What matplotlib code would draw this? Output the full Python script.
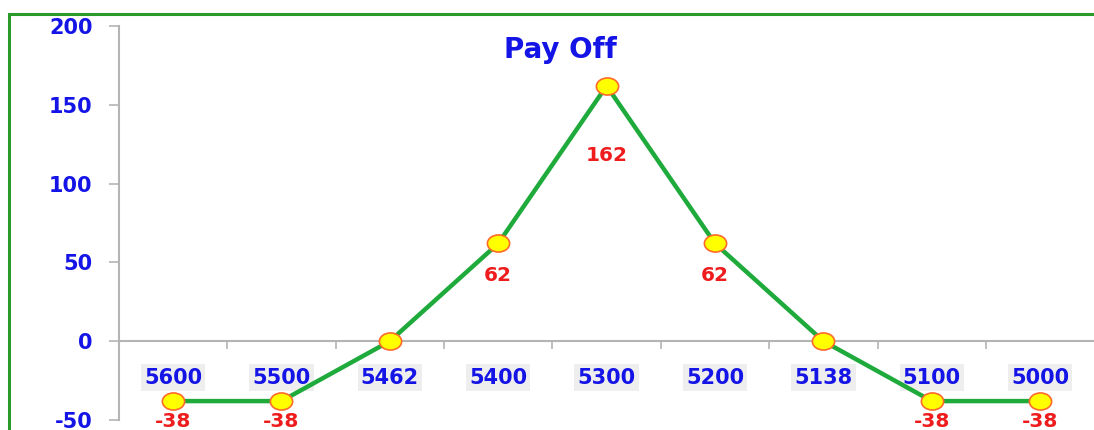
import matplotlib
matplotlib.use("Agg")
import matplotlib.pyplot as plt
from matplotlib.path import Path
from matplotlib.patches import Rectangle
from matplotlib.transforms import Affine2D

plt.rcParams["axes.unicode_minus"] = False

# data
strikes = ["5600", "5500", "5462", "5400", "5300", "5200", "5138", "5100", "5000"]
payoff = [-38, -38, 0, 62, 162, 62, 0, -38, -38]
yticks = [-50, 0, 50, 100, 150, 200]

# label offsets below each point (pixels), None = no label
label_offsets = [20, 20, None, 32, 70, 32, None, 20, 20]

blue = "#1414e6"
red = "#ee1c1c"
green = "#1faa3c"
grey = "#b4b4b4"

fig = plt.figure(figsize=(10.94, 4.30), dpi=100)
W, H = 1094, 430

# green frame around the chart (cut at right and bottom)
fig.patches.append(Rectangle((8.5 / W, -0.2), 1.2, 1.2 - 13.5 / H,
                             transform=fig.transFigure, fill=False,
                             edgecolor="#2a9a2a", linewidth=2.2))

x0 = 118.8
step = 108.4
ax = fig.add_axes([x0 / W, (H - 420) / H, 9 * step / W, (420 - 26) / H])
ax.set_facecolor("none")

x = list(range(len(strikes)))
ellipse = Path.unit_circle().transformed(Affine2D().scale(1.3, 1.0))
ax.plot(x, payoff, color=green, linewidth=3.2, zorder=3,
        marker=ellipse, markersize=16, markerfacecolor="#ffff00",
        markeredgecolor="#ff6a2a", markeredgewidth=1.2, clip_on=False)

for xi, v, off in zip(x, payoff, label_offsets):
    if off is None:
        continue
    ax.annotate(str(v), (xi, v), xytext=(0, -off), textcoords="offset pixels",
                ha="center", va="center", color=red, fontsize=14.5,
                fontweight="bold", annotation_clip=False, zorder=4)

ax.set_xlim(-0.5, len(strikes) - 0.5)
ax.set_ylim(-50, 200)
ax.set_yticks(yticks)

ax.set_xticks(x)
ax.set_xticklabels(strikes)
ax.set_xticks([i + 0.5 for i in x[:-1]], minor=True)

for s in ["top", "right"]:
    ax.spines[s].set_visible(False)
ax.spines["bottom"].set_position(("data", 0))
ax.spines["bottom"].set_color(grey)
ax.spines["left"].set_color(grey)
ax.spines["bottom"].set_linewidth(1.5)
ax.spines["left"].set_linewidth(1.5)

ax.tick_params(axis="x", which="major", length=0, pad=19, labelsize=15,
               labelcolor=blue)
ax.tick_params(axis="x", which="minor", length=6, width=1.2, color=grey,
               direction="out")
ax.tick_params(axis="y", length=7, width=1.2, color=grey, pad=12,
               labelsize=15, labelcolor=blue)
for lab in ax.get_xticklabels() + ax.get_yticklabels():
    lab.set_fontweight("bold")
for lab in ax.get_xticklabels():
    lab.set_bbox(dict(boxstyle="square,pad=0.15", facecolor="#eeeeee",
                      edgecolor="none"))

fig.text(560 / W, (H - 50) / H, "Pay Off", ha="center", va="center",
         color=blue, fontsize=20, fontweight="bold")

fig.savefig("out.png", dpi=100)
